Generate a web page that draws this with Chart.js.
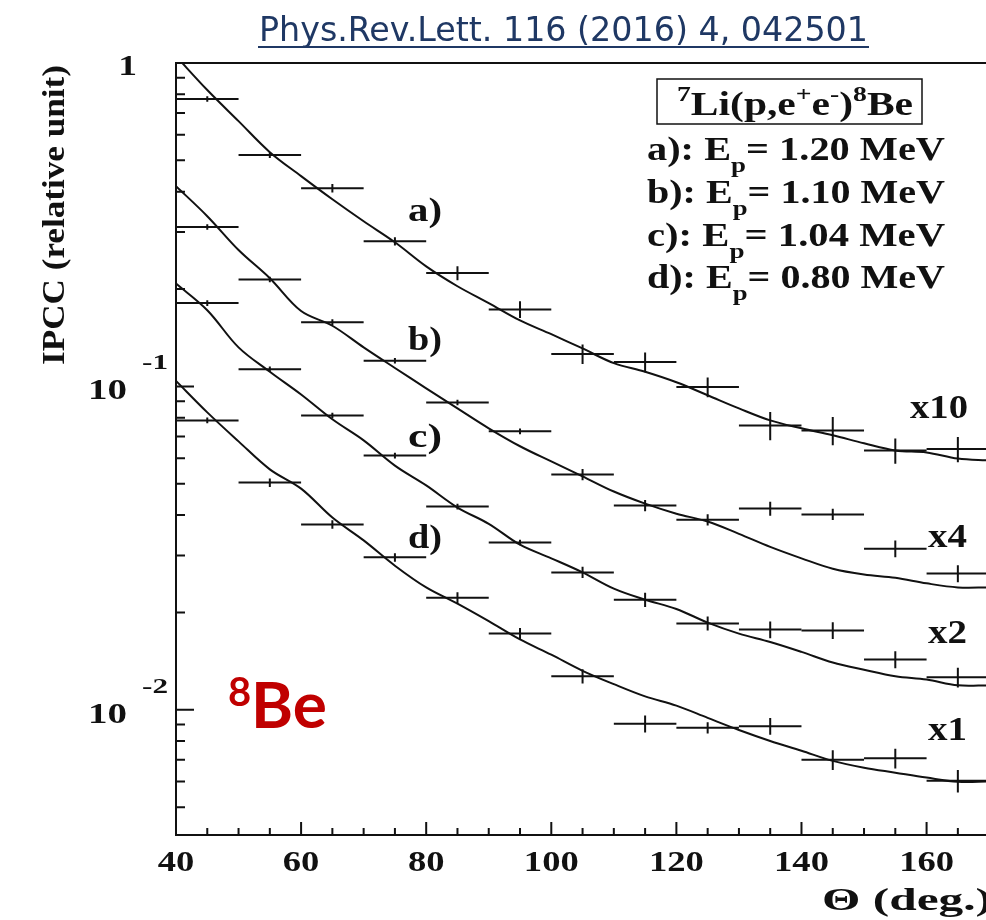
<!DOCTYPE html>
<html>
<head>
<meta charset="utf-8">
<script src="https://cdn.jsdelivr.net/npm/chart.js@4"></script>
<style>
  html, body { margin: 0; padding: 0; background: #fff; }
  canvas { display: block; }
</style>
</head>
<body>
<canvas id="ipcc" width="986" height="920"></canvas>
<script>
// angular bins of the measured points (deg), 10 deg wide
const binCentres = [45, 55, 65, 75, 85, 95, 105, 115, 125, 135, 145, 155, 165];
const binHalfWidth = 5;

// measured IPCC, already scaled by x10 / x4 / x2 / x1
const pointsA = [0.774, 0.519, 0.410, 0.281, 0.224, 0.173, 0.126, 0.119, 0.0996, 0.0757, 0.0731, 0.0633, 0.0640];
const pointsB = [0.311, 0.214, 0.158, 0.120, 0.0892, 0.0726, 0.0534, 0.0428, 0.0387, 0.0419, 0.0402, 0.0315, 0.0264];
const pointsC = [0.181, 0.113, 0.0813, 0.0611, 0.0425, 0.0329, 0.0266, 0.0219, 0.0185, 0.0177, 0.0176, 0.0143, 0.0126];
const pointsD = [0.0785, 0.0504, 0.0374, 0.0296, 0.0222, 0.0172, 0.0127, 0.00905, 0.0088, 0.0089, 0.0070, 0.00708, 0.00603];

// relative statistical errors
const errA = [0.02, 0.02, 0.03, 0.03, 0.05, 0.06, 0.07, 0.07, 0.07, 0.10, 0.10, 0.09, 0.09];
const errB = [0.02, 0.02, 0.02, 0.02, 0.02, 0.02, 0.04, 0.04, 0.04, 0.05, 0.04, 0.06, 0.06];
const errC = [0.02, 0.02, 0.02, 0.02, 0.02, 0.02, 0.04, 0.05, 0.05, 0.06, 0.06, 0.06, 0.07];
const errD = [0.02, 0.03, 0.03, 0.03, 0.04, 0.04, 0.05, 0.06, 0.04, 0.06, 0.07, 0.07, 0.08];

// simulated curves (same scaling)
const curveTheta = [40, 45, 50, 55, 60, 65, 70, 75, 80, 85, 90, 95, 100, 105,
  110, 115, 120, 125, 130, 135, 140, 145, 150, 155, 160, 165, 170];
const curveA = [1.05, 0.825, 0.661, 0.530, 0.447, 0.379, 0.324, 0.279, 0.235, 0.204, 0.181, 0.160, 0.145, 0.131,
  0.118, 0.111, 0.103, 0.0939, 0.0855, 0.0785, 0.0742, 0.0706, 0.0667, 0.0634, 0.0625, 0.0598, 0.0590];
const curveB = [0.416, 0.336, 0.264, 0.216, 0.171, 0.154, 0.132, 0.114, 0.0986, 0.0855, 0.0742, 0.0653, 0.0586, 0.0527,
  0.0473, 0.0434, 0.0404, 0.0382, 0.0350, 0.0319, 0.0294, 0.0273, 0.0262, 0.0256, 0.0246, 0.0239, 0.0239];
const curveC = [0.208, 0.172, 0.132, 0.111, 0.0944, 0.0791, 0.0681, 0.0569, 0.0494, 0.0422, 0.0376, 0.0324, 0.0294, 0.0266,
  0.0237, 0.0219, 0.0205, 0.0186, 0.0172, 0.0162, 0.0151, 0.0140, 0.0133, 0.0127, 0.0124, 0.0119, 0.0119];
const curveD = [0.104, 0.0831, 0.0676, 0.0554, 0.0483, 0.0393, 0.0334, 0.0279, 0.0239, 0.0213, 0.0188, 0.0165, 0.0148, 0.0132,
  0.0120, 0.0110, 0.0103, 0.00944, 0.00866, 0.00801, 0.00747, 0.00695, 0.00662, 0.00639, 0.00617, 0.00599, 0.0060];

const SERIF = '"Liberation Serif", "Times New Roman", serif';
const INK = "#111";

const toXY = (xs, ys) => xs.map((x, i) => ({ x: x, y: ys[i] }));

const curveSet = (values) => ({
  data: toXY(curveTheta, values),
  showLine: true,
  pointRadius: 0,
  borderColor: INK,
  borderWidth: 2,
  tension: 0.35,
});

const pointSet = (values, errs) => ({
  data: toXY(binCentres, values),
  showLine: false,
  pointRadius: 0,
  yErr: errs,
  errorBars: true,
});

// text with sup/sub parts, squeezed/stretched to a given width
const drawRich = (ctx, parts, x, y, size, width, family, weight) => {
  const w8 = weight || "bold";
  const fontFor = (p) => w8 + " " + (p.s ? Math.round(size * 0.68) : size) + "px " + (family || SERIF);
  let natural = 0;
  parts.forEach((p) => {
    ctx.font = fontFor(p);
    natural += ctx.measureText(p.t).width;
  });
  const sx = width ? width / natural : 1;
  ctx.save();
  ctx.translate(x, y);
  ctx.scale(sx, 1);
  let cx = 0;
  parts.forEach((p) => {
    ctx.font = fontFor(p);
    let dy = 0;
    if (p.s === "sup") dy = -size * 0.42;
    if (p.s === "sub") dy = size * 0.36;
    ctx.fillText(p.t, cx, dy);
    cx += ctx.measureText(p.t).width;
  });
  ctx.restore();
};

const errorBars = {
  id: "errorBars",
  afterDatasetsDraw(chart) {
    const { ctx, scales } = chart;
    const xs = scales.x, ys = scales.y;
    ctx.save();
    ctx.strokeStyle = INK;
    ctx.lineWidth = 2;
    chart.data.datasets.forEach((ds) => {
      if (!ds.errorBars) return;
      ds.data.forEach((p, i) => {
        const px = xs.getPixelForValue(p.x);
        const py = ys.getPixelForValue(p.y);
        const x0 = xs.getPixelForValue(p.x - binHalfWidth);
        const x1 = Math.min(xs.getPixelForValue(p.x + binHalfWidth), chart.chartArea.right);
        const yTop = ys.getPixelForValue(p.y * (1 + ds.yErr[i]));
        const yBot = ys.getPixelForValue(p.y * (1 - ds.yErr[i]));
        ctx.beginPath();
        ctx.moveTo(x0, py);
        ctx.lineTo(x1, py);
        ctx.moveTo(px, yTop);
        ctx.lineTo(px, yBot);
        ctx.stroke();
      });
    });
    ctx.restore();
  },
};

const frame = {
  id: "frame",
  afterDraw(chart) {
    const { ctx, chartArea: a, scales } = chart;
    const xs = scales.x, ys = scales.y;
    ctx.save();
    ctx.strokeStyle = INK;
    ctx.fillStyle = INK;
    ctx.lineWidth = 2;
    ctx.beginPath();
    ctx.moveTo(a.right, a.top);
    ctx.lineTo(a.left, a.top);
    ctx.lineTo(a.left, a.bottom);
    ctx.lineTo(a.right, a.bottom);
    ctx.stroke();

    // x ticks, drawn inwards
    ctx.beginPath();
    for (let v = 40; v <= 169; v += 5) {
      const px = xs.getPixelForValue(v);
      const len = v % 20 === 0 ? 13 : 7;
      ctx.moveTo(px, a.bottom);
      ctx.lineTo(px, a.bottom - len);
    }
    // y ticks on the log axis
    for (let e = -3; e <= 0; e++) {
      for (let m = 1; m <= 9; m++) {
        const v = m * Math.pow(10, e);
        if (v < ys.min || v > ys.max) continue;
        const py = ys.getPixelForValue(v);
        const len = m === 1 ? 18 : 9;
        ctx.moveTo(a.left, py);
        ctx.lineTo(a.left + len, py);
      }
    }
    ctx.stroke();

    // x tick labels
    ctx.textBaseline = "alphabetic";
    [40, 60, 80, 100, 120, 140, 160].forEach((v) => {
      const s = String(v);
      ctx.font = "bold 30px " + SERIF;
      const w = ctx.measureText(s).width * 1.22;
      drawRich(ctx, [{ t: s }], xs.getPixelForValue(v) - w / 2, 871, 30, w);
    });

    // y tick labels
    ctx.font = "bold 30px " + SERIF;
    const w1 = ctx.measureText("1").width * 1.25;
    drawRich(ctx, [{ t: "1" }], 137 - w1, ys.getPixelForValue(1) + 12, 30, w1);
    [-1, -2].forEach((e) => {
      const py = ys.getPixelForValue(Math.pow(10, e));
      drawRich(ctx, [{ t: "10" }], 88, py + 13, 30, 39);
      drawRich(ctx, [{ t: String(e) }], 142, py - 17, 22, 26);
    });

    // axis titles
    ctx.save();
    ctx.translate(64, 365);
    ctx.rotate(-Math.PI / 2);
    drawRich(ctx, [{ t: "IPCC (relative unit)" }], 0, 0, 31, 300);
    ctx.restore();
    drawRich(ctx, [{ t: "\u0398 (deg.)" }], 822, 910, 32, 170);

    // curve tags and scale factors
    [["a)", 221], ["b)", 350], ["c)", 447], ["d)", 548]].forEach(([t, y]) => {
      drawRich(ctx, [{ t: t }], 408, y, 33, 34);
    });
    drawRich(ctx, [{ t: "x10" }], 910, 418, 33, 58);
    [["x4", 547], ["x2", 643], ["x1", 740]].forEach(([t, y]) => {
      drawRich(ctx, [{ t: t }], 928, y, 33, 39);
    });

    // reaction box and beam energies
    ctx.lineWidth = 1.5;
    ctx.strokeRect(657, 79, 265, 45);
    drawRich(ctx, [
      { t: "7", s: "sup" }, { t: "Li(p,e" }, { t: "+", s: "sup" }, { t: "e" },
      { t: "-", s: "sup" }, { t: ")" }, { t: "8", s: "sup" }, { t: "Be" },
    ], 677, 115, 33, 236);
    [["a", "1.20", 160], ["b", "1.10", 203], ["c", "1.04", 246], ["d", "0.80", 288]].forEach(([k, e, y]) => {
      drawRich(ctx, [{ t: k + "): E" }, { t: "p", s: "sub" }, { t: "= " + e + " MeV" }], 647, y, 33, 298);
    });

    // isotope tag
    ctx.fillStyle = "#c00000";
    ctx.font = "bold 40px Lato";
    ctx.fillText("8", 228, 706);
    ctx.font = "bold 64px Lato";
    ctx.fillText("Be", 251, 728);

    // reference line on top
    ctx.fillStyle = "#1f3864";
    ctx.strokeStyle = "#1f3864";
    drawRich(ctx, [{ t: "Phys.Rev.Lett. 116 (2016) 4, 042501" }], 259, 41, 33, 609,
      '"DejaVu Sans Condensed", "Liberation Sans Narrow", sans-serif', "normal");
    ctx.lineWidth = 2;
    ctx.beginPath();
    ctx.moveTo(258, 47);
    ctx.lineTo(869, 47);
    ctx.stroke();
    ctx.restore();
  },
};

new Chart(document.getElementById("ipcc"), {
  type: "scatter",
  data: {
    datasets: [
      curveSet(curveA), curveSet(curveB), curveSet(curveC), curveSet(curveD),
      pointSet(pointsA, errA), pointSet(pointsB, errB), pointSet(pointsC, errC), pointSet(pointsD, errD),
    ],
  },
  options: {
    responsive: false,
    animation: false,
    devicePixelRatio: 1,
    layout: { padding: { left: 176, top: 63, right: 0, bottom: 85 } },
    plugins: { legend: { display: false }, tooltip: { enabled: false } },
    scales: {
      x: { type: "linear", display: false, min: 40, max: 169.5 },
      y: { type: "logarithmic", display: false, min: 0.0041, max: 1 },
    },
  },
  plugins: [errorBars, frame],
});
</script>
</body>
</html>
